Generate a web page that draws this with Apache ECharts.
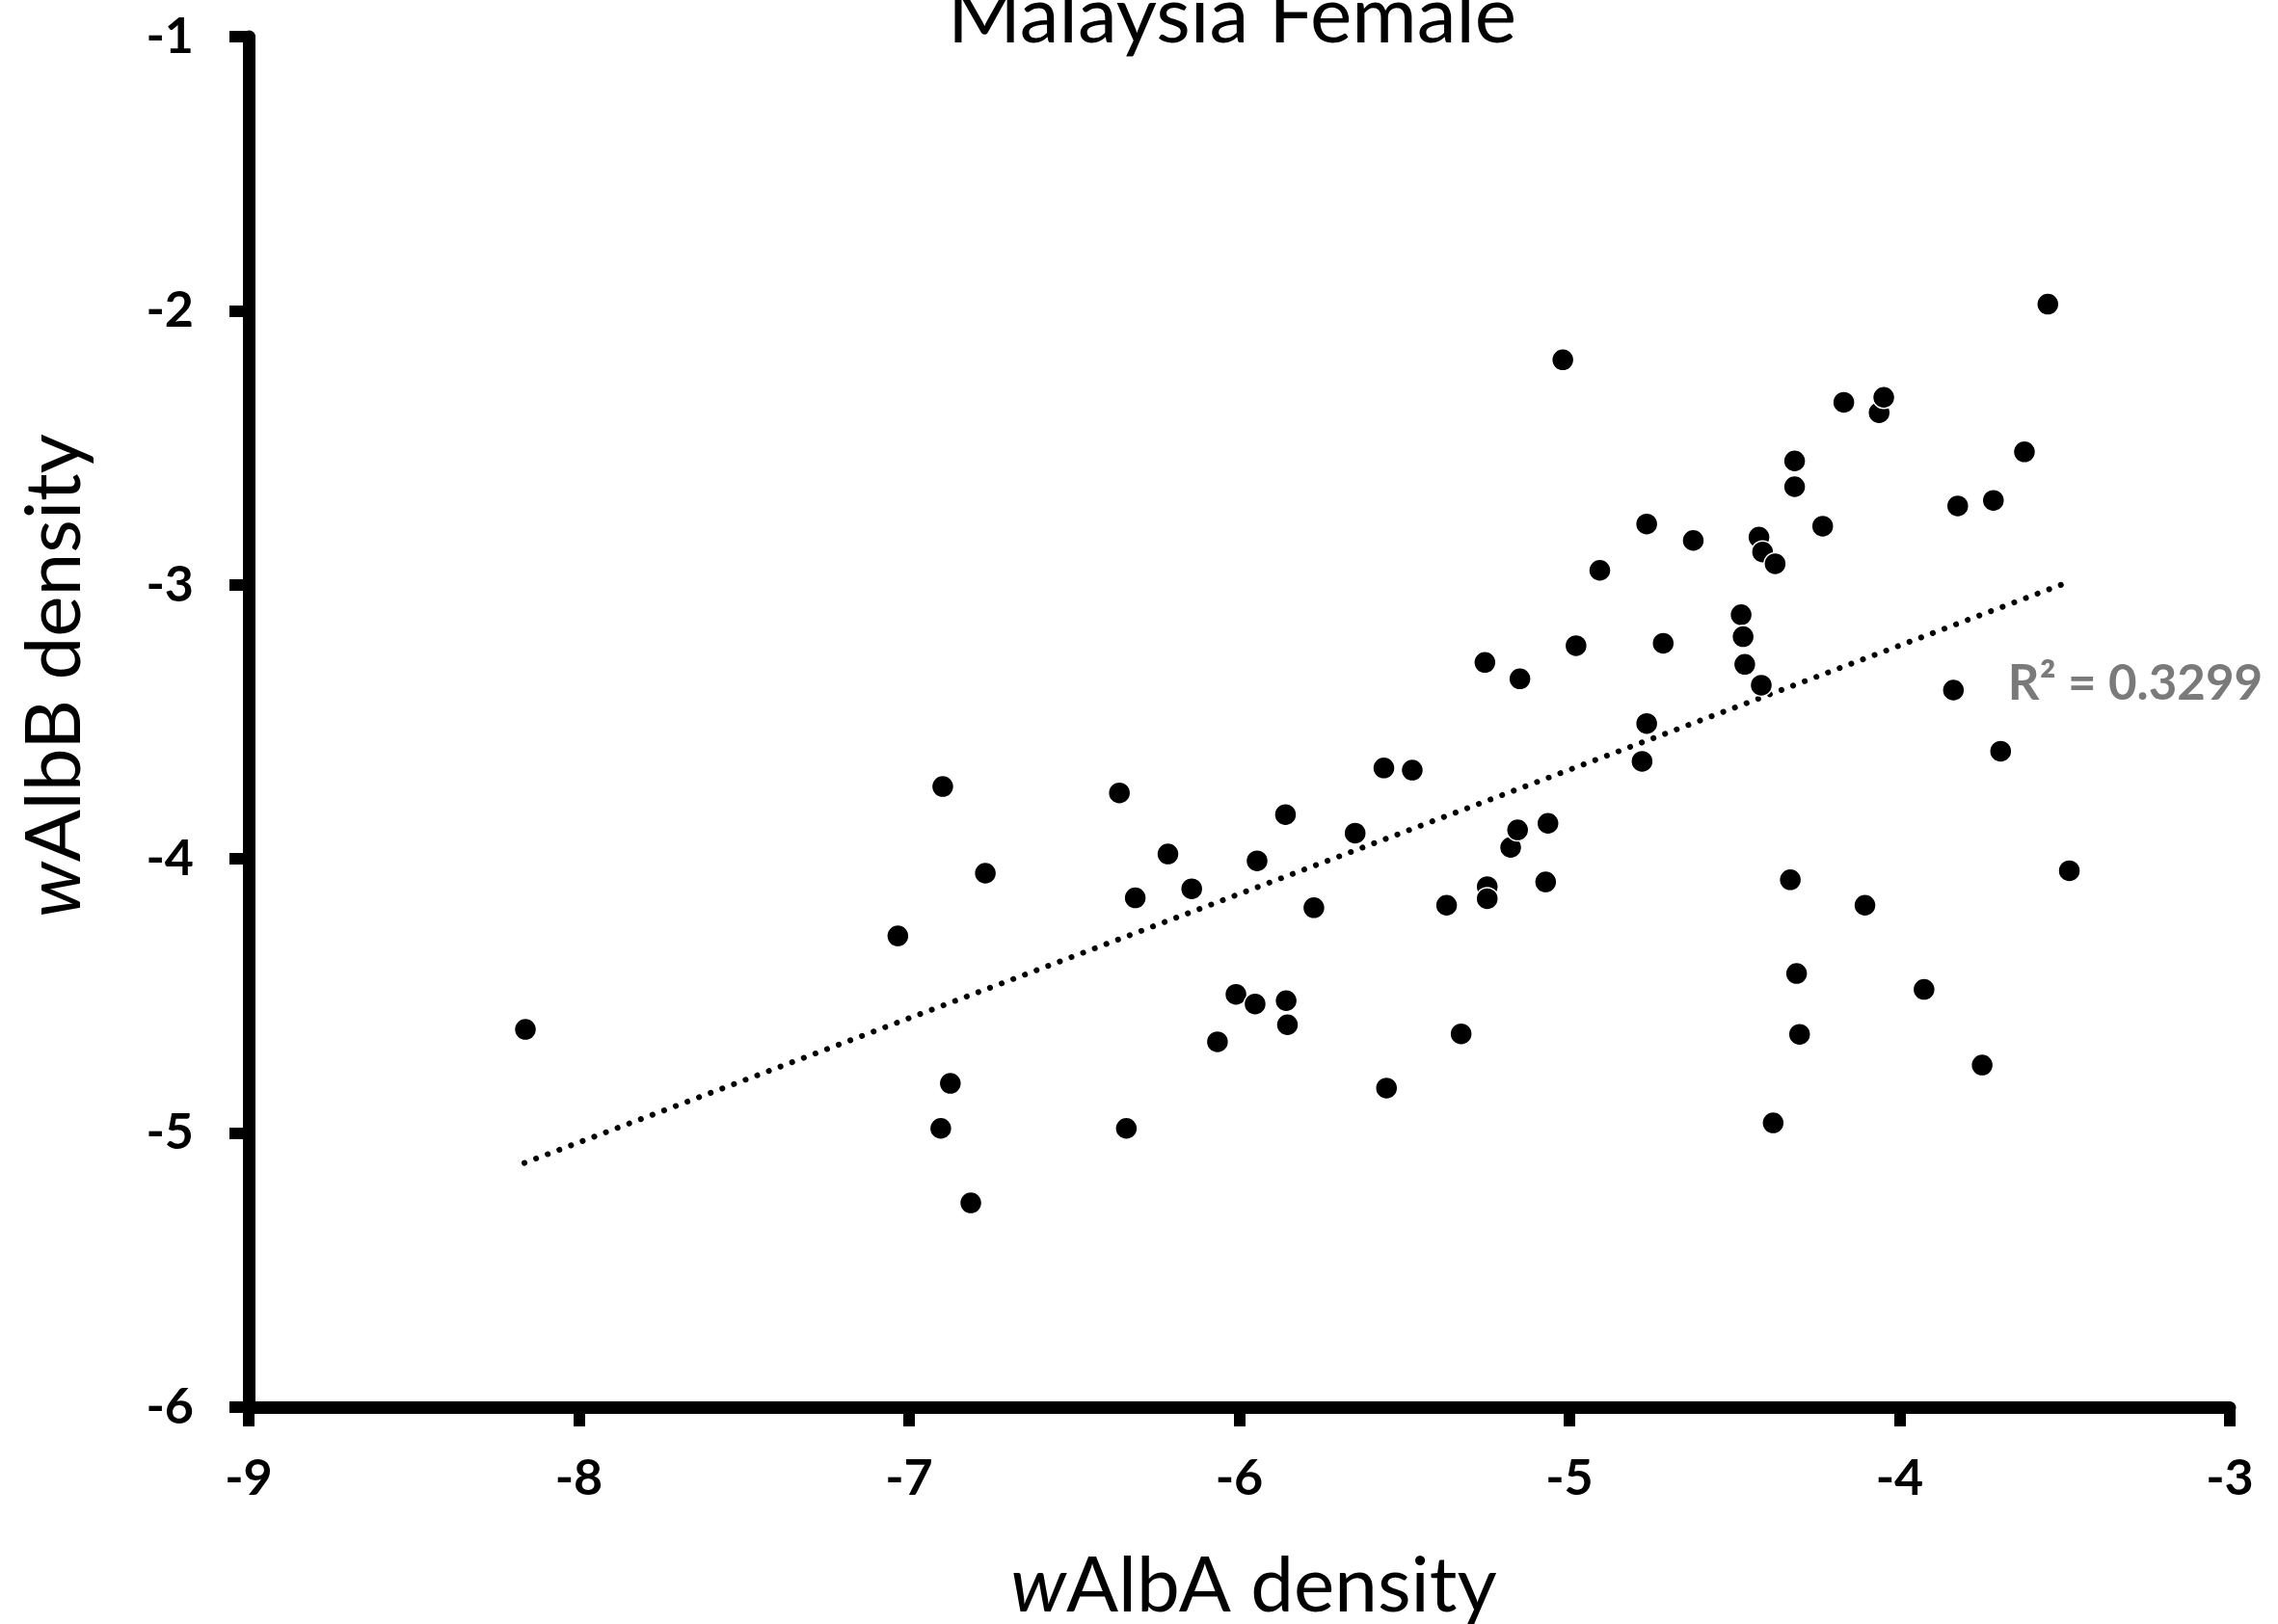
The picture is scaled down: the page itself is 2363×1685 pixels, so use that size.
<!DOCTYPE html>
<html>
<head>
<meta charset="utf-8">
<script src="https://cdn.jsdelivr.net/npm/echarts@6/dist/echarts.min.js"></script>
<style>
  html, body { margin: 0; padding: 0; background: #fff; }
  #chart { width: 2363px; height: 1685px; }
</style>
</head>
<body>
<div id="chart"></div>
<script>
// wAlbA density (x) values
const walbA = [
  -8.162, -7.034, -6.898, -6.769, -6.875, -6.904, -6.813, -6.363, -6.315, -6.216,
  -6.144, -6.342, -6.010, -5.952, -6.066, -5.946, -5.860, -5.858, -5.854, -5.774,
  -5.649, -5.562, -5.476, -5.554, -5.372, -5.328, -5.256, -5.249, -5.249, -5.150,
  -5.178, -5.157, -5.065, -5.072, -5.020, -4.980, -4.908, -4.766, -4.716, -4.766,
  -4.780, -4.625, -4.480, -4.474, -4.469, -4.419, -4.426, -4.415, -4.377, -4.318,
  -4.318, -4.233, -4.169, -4.062, -4.048, -4.331, -4.312, -4.303, -4.383, -4.105,
  -3.926, -3.837, -3.824, -3.716, -3.622, -3.551, -3.694, -3.750, -3.486
];
// wAlbB density (y) values
const walbB = [
  -4.622, -4.281, -3.736, -4.052, -4.819, -4.983, -5.255, -3.759, -4.142, -3.982,
  -4.109, -4.983, -4.494, -4.529, -4.667, -4.007, -3.838, -4.517, -4.605, -4.178,
  -3.906, -3.668, -3.676, -4.836, -4.169, -4.638, -3.283, -4.101, -4.145, -3.343,
  -3.958, -3.894, -3.870, -4.084, -2.179, -3.222, -2.947, -2.778, -3.213, -3.506,
  -3.644, -2.838, -3.109, -3.189, -3.290, -3.366, -2.826, -2.880, -2.923, -2.548,
  -2.642, -2.786, -2.334, -2.372, -2.316, -4.076, -4.418, -4.640, -4.963, -4.169,
  -4.476, -3.384, -2.712, -2.692, -2.515, -1.976, -3.607, -4.752, -4.043
];
// linear trendline end points
const trendX = [-8.165, -3.496];
const trendY = [-5.109, -2.993];
// R² annotation
const r2Text = 'R² = 0.3299';
const r2Pos = [-3.672, -3.363];
// axis ticks
const xTicks = [-9, -8, -7, -6, -5, -4, -3];
const yTicks = [-6, -5, -4, -3, -2, -1];

const FONT = 'Lato, "Open Sans", "DejaVu Sans", sans-serif';

const points = walbA.map((x, i) => [x, walbB[i]]);
const trend = trendX.map((x, i) => [x, trendY[i]]);

const chart = echarts.init(document.getElementById('chart'), null, { renderer: 'canvas' });
chart.setOption({
  animation: false,
  backgroundColor: '#ffffff',
  title: {
    text: 'Malaysia Female',
    left: 1273,
    textAlign: 'center',
    top: -28,
    textStyle: { fontFamily: FONT, fontSize: 82, fontWeight: 'normal', color: '#000' }
  },
  grid: { left: 258, right: 50, top: 38, bottom: 225, containLabel: false, outerBoundsMode: 'none' },
  xAxis: {
    type: 'value',
    min: xTicks[0],
    max: xTicks[xTicks.length - 1],
    interval: 1,
    name: '{i|w}AlbA density',
    nameLocation: 'middle',
    nameGap: 146,
    nameTextStyle: {
      fontFamily: FONT, fontSize: 80, color: '#000', padding: [0, 0, 0, 30],
      rich: { i: { fontFamily: FONT, fontSize: 80, fontStyle: 'italic', color: '#000' } }
    },
    axisLine: { show: true, onZero: false, lineStyle: { color: '#000', width: 13 } },
    axisTick: { show: true, length: 20, lineStyle: { color: '#000', width: 12 } },
    axisLabel: { margin: 48, fontFamily: FONT, fontSize: 52, fontWeight: 'bold', color: '#000' },
    splitLine: { show: false }
  },
  yAxis: {
    type: 'value',
    min: yTicks[0],
    max: yTicks[yTicks.length - 1],
    interval: 1,
    name: '{i|w}AlbB density',
    nameLocation: 'middle',
    nameGap: 161,
    nameRotate: 90,
    nameTextStyle: {
      fontFamily: FONT, fontSize: 80, color: '#000', padding: [0, 0, 0, 96],
      rich: { i: { fontFamily: FONT, fontSize: 80, fontStyle: 'italic', color: '#000' } }
    },
    axisLine: { show: true, onZero: false, lineStyle: { color: '#000', width: 13 } },
    axisTick: { show: true, length: 20, lineStyle: { color: '#000', width: 12 } },
    axisLabel: { margin: 57, fontFamily: FONT, fontSize: 52, fontWeight: 'bold', color: '#000' },
    splitLine: { show: false }
  },
  series: [
    {
      type: 'line',
      data: trend,
      symbol: 'none',
      silent: true,
      z: 1,
      lineStyle: { color: '#000', width: 6, type: [0.1, 12.8], cap: 'round' }
    },
    {
      type: 'scatter',
      data: points,
      symbol: 'circle',
      symbolSize: 23,
      z: 2,
      itemStyle: { color: '#000', borderColor: '#fff', borderWidth: 1.5, opacity: 1 }
    },
    {
      type: 'scatter',
      data: [r2Pos],
      symbolSize: 0,
      silent: true,
      z: 3,
      label: {
        show: true,
        position: 'right',
        distance: 0,
        formatter: r2Text,
        fontFamily: FONT,
        fontSize: 51,
        fontWeight: 'bold',
        color: '#595959'
      }
    }
  ]
});
</script>
</body>
</html>
